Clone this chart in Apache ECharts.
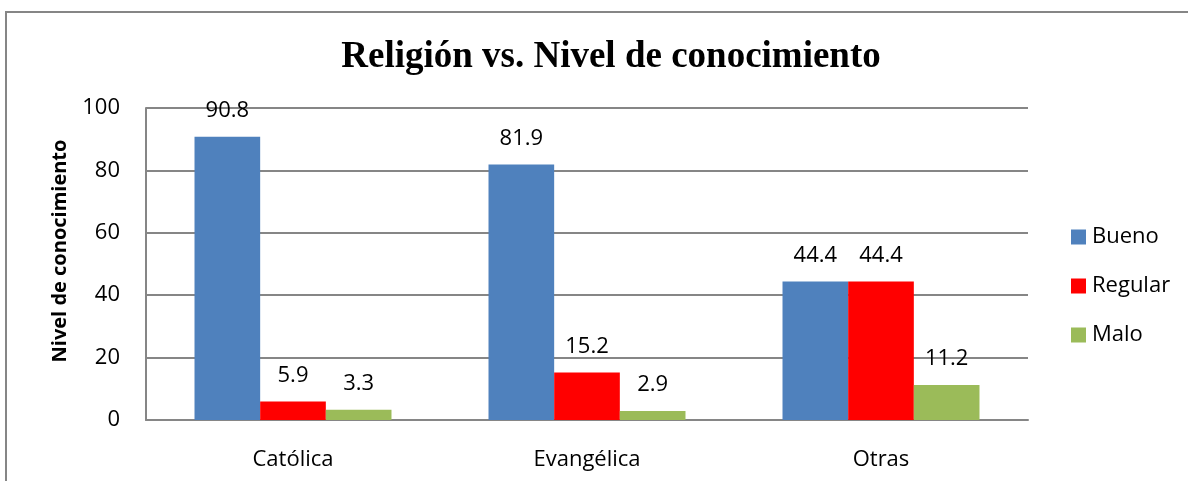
<!DOCTYPE html>
<html>
<head>
<meta charset="utf-8">
<script src="https://cdn.jsdelivr.net/npm/echarts@6/dist/echarts.min.js"></script>
<style>
  html, body { margin: 0; padding: 0; background: #fff; }
  #chart { width: 1188px; height: 481px; }
</style>
</head>
<body>
<div id="chart"></div>
<script>
  const categories = ['Católica', 'Evangélica', 'Otras']
  const bueno = [90.8, 81.9, 44.4]
  const regular = [5.9, 15.2, 44.4]
  const malo = [3.3, 2.9, 11.2]
  const yTicks = [0, 20, 40, 60, 80, 100]

  const font = '"Open Sans", sans-serif'
  const labelStyle = {
    show: true,
    position: 'top',
    distance: 15,
    fontFamily: font,
    fontSize: 22,
    color: '#000'
  }

  const chart = echarts.init(document.getElementById('chart'))
  const option = {
    animation: false,
    title: {
      text: 'Religión vs. Nivel de conocimiento',
      left: 606,
      textAlign: 'center',
      top: 34,
      textStyle: {
        fontFamily: '"Liberation Serif", serif',
        fontWeight: 'bold',
        fontSize: 37,
        color: '#000'
      }
    },
    graphic: [
      {
        type: 'rect',
        shape: { x: 6, y: 12, width: 1300, height: 600 },
        style: { fill: 'none', stroke: '#868686', lineWidth: 2 },
        silent: true
      },
      {
        type: 'text',
        x: 60,
        y: 251,
        rotation: Math.PI / 2,
        style: {
          text: 'Nivel de conocimiento',
          fontFamily: font,
          fontSize: 20,
          fontWeight: 'bold',
          fill: '#000',
          textAlign: 'center',
          textVerticalAlign: 'middle'
        },
        silent: true
      }
    ],
    legend: {
      orient: 'vertical',
      left: 1071,
      top: 226,
      padding: 0,
      itemWidth: 15,
      itemHeight: 15,
      itemGap: 27,
      icon: 'rect',
      data: ['Bueno', 'Regular', 'Malo'],
      textStyle: { fontFamily: font, fontSize: 22, color: '#000', padding: [0, 0, 0, 1] }
    },
    grid: {
      left: 146,
      right: 160,
      top: 108,
      bottom: 61
    },
    xAxis: {
      type: 'category',
      data: categories,
      axisTick: { show: false },
      axisLine: { lineStyle: { color: '#868686', width: 2 } },
      axisLabel: { fontFamily: font, fontSize: 22, color: '#000', margin: 29 }
    },
    yAxis: {
      type: 'value',
      min: yTicks[0],
      max: yTicks[yTicks.length - 1],
      interval: 20,
      axisLine: { show: true, lineStyle: { color: '#868686', width: 2 } },
      axisTick: { show: false },
      splitLine: { lineStyle: { color: '#868686', width: 2 } },
      axisLabel: { fontFamily: font, fontSize: 22, color: '#000', margin: 26 }
    },
    series: [
      {
        name: 'Bueno',
        type: 'bar',
        data: bueno,
        barGap: '0%',
        barCategoryGap: '33%',
        itemStyle: { color: '#4F81BD' },
        label: labelStyle
      },
      {
        name: 'Regular',
        type: 'bar',
        data: regular,
        itemStyle: { color: '#FF0000' },
        label: labelStyle
      },
      {
        name: 'Malo',
        type: 'bar',
        data: malo,
        itemStyle: { color: '#9BBB59' },
        label: labelStyle
      }
    ]
  }
  chart.setOption(option)
</script>
</body>
</html>
